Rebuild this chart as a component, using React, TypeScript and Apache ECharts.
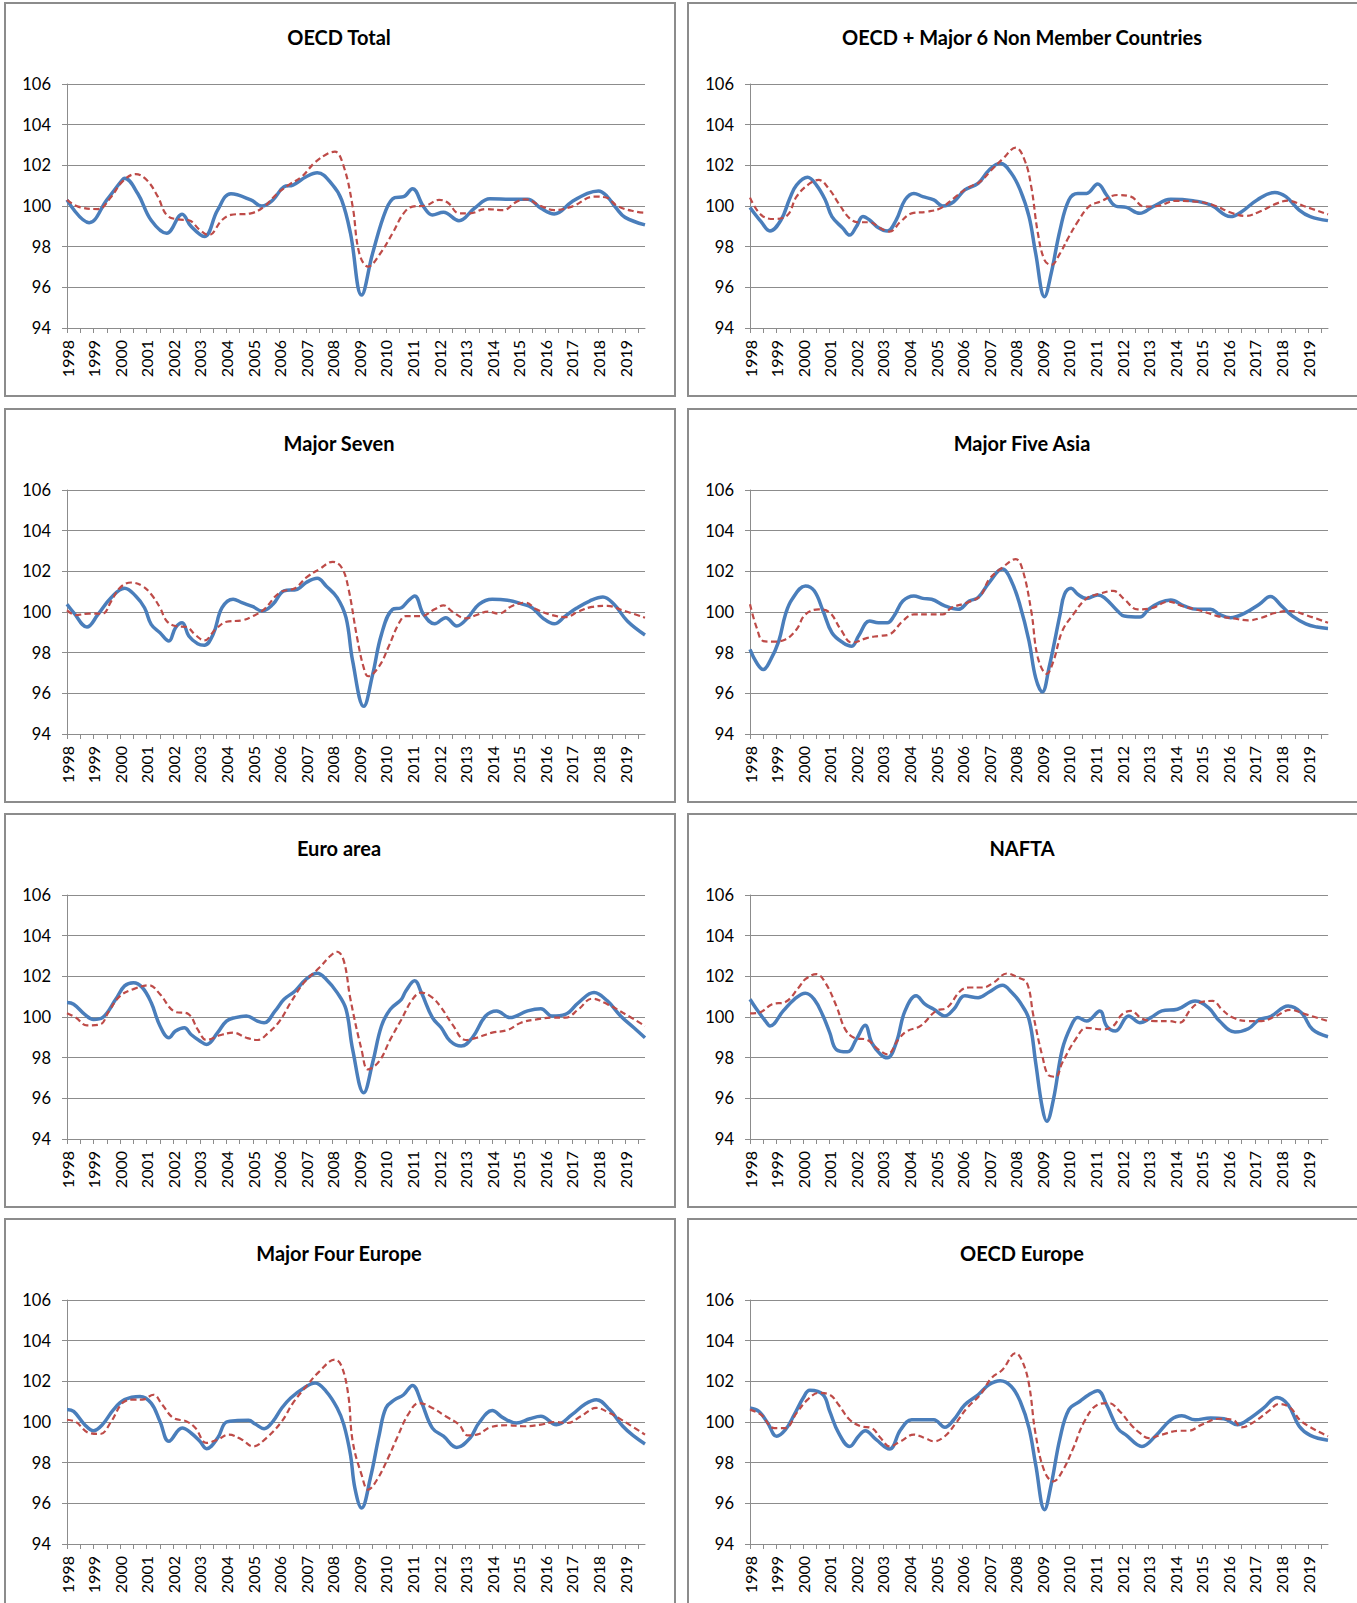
import React, { useEffect, useRef } from "react";
import * as echarts from "echarts";

// ---------- categories ----------
const YEARS = ["1998","1999","2000","2001","2002","2003","2004","2005","2006","2007","2008","2009","2010","2011","2012","2013","2014","2015","2016","2017","2018","2019"];
const MONTH_NUMS = ["01","02","03","04","05","06","07","08","09","10","11","12"];
const MONTHS = YEARS.flatMap((y) => MONTH_NUMS.map((m) => `${y}-${m}`)).slice(0, 262);

const Y_TICKS = { min: 94, max: 106, interval: 2 };

const TITLES = [
  "OECD Total",
  "OECD + Major 6 Non Member Countries",
  "Major Seven",
  "Major Five Asia",
  "Euro area",
  "NAFTA",
  "Major Four Europe",
  "OECD Europe",
];

// ---------- series values: [time in years, value] ----------
const oecdTotalCLI = [[1998.0,100.3],[1998.8,99.18],[1999.53,100.3],[2000.1,101.28],[2000.2,101.36],[2000.65,100.6],[2001.14,99.3],[2001.74,98.66],[2002.3,99.6],[2002.67,99.0],[2003.2,98.5],[2003.7,99.8],[2004.2,100.6],[2004.92,100.3],[2005.3,100.0],[2005.73,100.3],[2006.13,100.95],[2006.53,101.03],[2007.02,101.44],[2007.42,101.64],[2007.98,101.03],[2008.3,100.3],[2008.63,98.66],[2009.11,95.62],[2009.5,97.67],[2010.0,99.8],[2010.32,100.41],[2010.64,100.46],[2011.04,100.85],[2011.45,99.97],[2011.77,99.56],[2012.17,99.69],[2012.73,99.28],[2013.3,99.89],[2013.94,100.36],[2014.75,100.33],[2015.31,100.33],[2015.87,99.89],[2016.36,99.61],[2017.0,100.21],[2017.57,100.62],[2017.97,100.74],[2018.37,100.46],[2018.69,99.89],[2019.01,99.44],[2019.75,99.07]];
const oecdTotalRef = [[1998.0,100.3],[1998.4,99.97],[1999.13,99.85],[1999.7,100.46],[2000.1,101.2],[2000.58,101.57],[2000.98,101.28],[2001.38,100.46],[2001.78,99.56],[2002.19,99.34],[2002.59,99.3],[2003.0,98.82],[2003.31,98.57],[2003.8,99.31],[2004.2,99.56],[2004.92,99.64],[2005.41,99.97],[2005.89,100.62],[2006.37,101.03],[2006.86,101.44],[2007.34,102.15],[2007.82,102.59],[2008.06,102.67],[2008.39,101.93],[2008.71,99.97],[2009.03,97.67],[2009.35,97.02],[2009.76,97.59],[2010.24,98.66],[2010.64,99.64],[2011.04,99.97],[2011.53,100.02],[2012.0,100.3],[2012.33,100.16],[2012.73,99.64],[2013.14,99.64],[2013.78,99.85],[2014.43,99.8],[2014.91,100.21],[2015.23,100.33],[2015.87,100.0],[2016.36,99.8],[2017.0,99.97],[2017.81,100.46],[2018.21,100.43],[2018.77,99.97],[2019.42,99.72],[2019.75,99.67]];

const oecdPlus6CLI = [[1998.0,99.93],[1998.38,99.23],[1998.76,98.77],[1999.13,99.31],[1999.46,100.38],[1999.79,101.03],[2000.13,101.41],[2000.54,101.03],[2000.87,100.3],[2001.12,99.48],[2001.46,98.9],[2001.79,98.57],[2002.04,98.98],[2002.29,99.48],[2002.53,99.31],[2002.87,98.93],[2003.2,98.77],[2003.53,99.31],[2003.86,100.3],[2004.2,100.62],[2004.53,100.46],[2004.94,100.3],[2005.28,100.0],[2005.69,100.21],[2006.11,100.79],[2006.6,101.11],[2007.02,101.77],[2007.43,102.1],[2007.85,101.61],[2008.18,100.79],[2008.51,99.48],[2008.76,97.67],[2009.05,95.54],[2009.35,96.69],[2009.68,98.82],[2010.01,100.3],[2010.34,100.62],[2010.67,100.62],[2011.09,101.08],[2011.42,100.54],[2011.75,100.0],[2012.17,99.93],[2012.67,99.64],[2013.17,99.97],[2013.83,100.33],[2014.66,100.26],[2015.33,100.05],[2016.08,99.48],[2016.49,99.72],[2017.07,100.3],[2017.73,100.67],[2018.15,100.46],[2018.65,99.8],[2019.06,99.48],[2019.75,99.28]];
const oecdPlus6Ref = [[1998.0,100.41],[1998.38,99.56],[1998.88,99.36],[1999.38,99.56],[1999.79,100.46],[2000.21,101.11],[2000.62,101.28],[2001.04,100.79],[2001.37,100.13],[2001.79,99.39],[2002.12,99.2],[2002.53,99.2],[2002.95,98.9],[2003.28,98.74],[2003.7,99.23],[2004.11,99.64],[2004.69,99.72],[2005.19,99.89],[2005.69,100.38],[2006.19,100.87],[2006.69,101.2],[2007.1,101.77],[2007.52,102.3],[2008.02,102.87],[2008.35,102.26],[2008.6,100.95],[2008.85,98.66],[2009.1,97.34],[2009.35,97.1],[2009.68,97.67],[2010.01,98.49],[2010.34,99.23],[2010.76,99.97],[2011.17,100.21],[2011.84,100.54],[2012.34,100.46],[2012.83,99.97],[2013.33,100.0],[2014.0,100.25],[2014.83,100.21],[2015.41,100.05],[2016.16,99.64],[2016.65,99.51],[2017.15,99.72],[2017.82,100.13],[2018.23,100.26],[2018.81,100.0],[2019.75,99.59]];

const majorSevenCLI = [[1998.0,100.38],[1998.29,99.97],[1998.77,99.26],[1999.16,99.88],[1999.66,100.71],[2000.17,101.17],[2000.6,100.79],[2000.89,100.21],[2001.18,99.39],[2001.47,98.98],[2001.8,98.57],[2002.12,99.23],[2002.34,99.47],[2002.62,98.82],[2002.91,98.44],[2003.2,98.37],[2003.49,98.9],[2003.85,100.21],[2004.21,100.63],[2004.58,100.46],[2005.01,100.26],[2005.37,100.05],[2005.73,100.38],[2006.16,101.04],[2006.67,101.12],[2007.03,101.45],[2007.39,101.66],[2007.75,101.28],[2008.19,100.71],[2008.48,99.72],[2008.77,97.58],[2009.13,95.36],[2009.49,96.92],[2009.85,98.9],[2010.21,100.13],[2010.57,100.21],[2010.86,100.54],[2011.11,100.79],[2011.44,99.88],[2011.8,99.42],[2012.21,99.72],[2012.67,99.31],[2013.1,99.72],[2013.53,100.38],[2013.97,100.63],[2014.55,100.58],[2015.05,100.41],[2015.49,100.21],[2015.92,99.69],[2016.35,99.42],[2016.79,99.8],[2017.15,100.18],[2017.65,100.54],[2018.16,100.74],[2018.59,100.38],[2019.1,99.56],[2019.75,98.87]];
const majorSevenRef = [[1998.0,100.08],[1998.36,99.85],[1998.87,99.92],[1999.3,99.92],[1999.66,100.54],[2000.02,101.2],[2000.38,101.45],[2000.82,101.28],[2001.18,100.87],[2001.47,100.21],[2001.76,99.56],[2002.12,99.31],[2002.48,99.26],[2002.84,98.87],[2003.2,98.6],[2003.56,99.14],[2004.0,99.52],[2004.58,99.59],[2005.01,99.8],[2005.44,100.13],[2006.02,100.95],[2006.6,101.17],[2007.03,101.69],[2007.47,102.11],[2008.04,102.47],[2008.33,102.19],[2008.62,101.2],[2008.91,98.73],[2009.2,97.25],[2009.37,96.84],[2009.71,97.34],[2010.07,98.24],[2010.5,99.47],[2010.79,99.8],[2011.37,99.8],[2011.8,100.13],[2012.16,100.33],[2012.52,100.02],[2012.96,99.69],[2013.39,99.85],[2013.82,100.02],[2014.26,99.92],[2014.76,100.3],[2015.27,100.46],[2015.7,100.13],[2016.21,99.85],[2016.71,99.75],[2017.21,100.02],[2017.72,100.25],[2018.3,100.3],[2018.88,100.08],[2019.75,99.72]];

const majorFiveAsiaCLI = [[1998.0,98.16],[1998.22,97.5],[1998.48,97.17],[1998.79,97.58],[1999.08,98.57],[1999.37,99.88],[1999.59,100.63],[2000.1,101.28],[2000.38,101.04],[2000.75,100.05],[2001.11,98.98],[2001.47,98.49],[2001.83,98.32],[2002.12,98.82],[2002.48,99.56],[2002.84,99.47],[2003.13,99.47],[2003.42,99.8],[2003.78,100.54],[2004.14,100.79],[2004.5,100.67],[2004.86,100.63],[2005.3,100.3],[2005.8,100.13],[2006.24,100.54],[2006.6,100.71],[2006.96,101.45],[2007.47,102.11],[2007.83,101.53],[2008.19,100.3],[2008.48,98.57],[2008.77,96.76],[2008.98,96.07],[2009.27,97.25],[2009.63,99.88],[2009.85,100.87],[2010.07,101.17],[2010.36,100.87],[2010.64,100.67],[2011.08,100.84],[2011.37,100.71],[2011.8,100.05],[2012.09,99.8],[2012.67,99.75],[2013.03,100.13],[2013.39,100.46],[2013.82,100.59],[2014.33,100.3],[2014.84,100.13],[2015.34,100.13],[2015.7,99.88],[2016.06,99.72],[2016.57,99.92],[2017.15,100.38],[2017.58,100.76],[2018.02,100.3],[2018.45,99.8],[2018.88,99.42],[2019.32,99.26],[2019.75,99.19]];
const majorFiveAsiaRef = [[1998.0,100.38],[1998.22,99.23],[1998.51,98.57],[1998.87,98.54],[1999.3,98.65],[1999.73,99.14],[2000.1,99.88],[2000.6,100.13],[2001.03,99.97],[2001.4,99.14],[2001.83,98.49],[2002.41,98.73],[2002.84,98.82],[2003.27,98.9],[2003.71,99.56],[2004.14,99.88],[2004.72,99.88],[2005.23,99.88],[2005.59,100.21],[2006.16,100.46],[2006.67,100.79],[2007.03,101.61],[2007.47,102.19],[2007.97,102.6],[2008.26,102.11],[2008.55,100.05],[2008.84,97.75],[2009.13,96.96],[2009.42,97.58],[2009.78,99.06],[2010.14,99.88],[2010.64,100.67],[2011.15,100.9],[2011.66,101.04],[2012.09,100.63],[2012.6,100.13],[2013.1,100.18],[2013.75,100.51],[2014.26,100.3],[2014.98,100.05],[2015.56,99.8],[2016.14,99.69],[2016.79,99.59],[2017.29,99.72],[2017.72,99.95],[2018.3,100.05],[2018.88,99.85],[2019.75,99.47]];

const euroAreaCLI = [[1998.0,100.71],[1998.29,100.63],[1998.65,100.13],[1999.01,99.88],[1999.37,99.97],[1999.81,100.87],[2000.17,101.53],[2000.46,101.69],[2000.82,101.45],[2001.18,100.71],[2001.54,99.56],[2001.86,98.98],[2002.12,99.31],[2002.38,99.47],[2002.7,99.14],[2002.99,98.82],[2003.27,98.65],[2003.64,99.23],[2004.0,99.8],[2004.36,99.97],[2004.79,100.05],[2005.15,99.8],[2005.44,99.72],[2005.8,100.3],[2006.16,100.87],[2006.6,101.28],[2007.03,101.86],[2007.39,102.15],[2007.75,101.86],[2008.19,101.2],[2008.48,100.38],[2008.77,98.4],[2009.13,96.27],[2009.49,97.75],[2009.85,99.56],[2010.14,100.38],[2010.57,100.87],[2010.79,101.28],[2011.08,101.78],[2011.37,101.2],[2011.73,99.97],[2012.09,99.47],[2012.45,98.82],[2012.81,98.57],[2013.25,98.98],[2013.75,100.05],[2014.18,100.3],[2014.69,99.97],[2015.34,100.3],[2015.85,100.41],[2016.28,100.05],[2016.71,100.13],[2017.29,100.71],[2017.87,101.2],[2018.3,100.79],[2018.81,100.05],[2019.31,99.47],[2019.75,98.98]];
const euroAreaRef = [[1998.0,100.18],[1998.36,99.97],[1998.79,99.59],[1999.23,99.64],[1999.59,100.3],[2000.02,101.04],[2000.46,101.37],[2001.11,101.56],[2001.47,101.12],[2001.97,100.3],[2002.55,100.13],[2002.91,99.39],[2003.27,98.87],[2003.78,99.1],[2004.29,99.23],[2004.72,98.98],[2005.15,98.87],[2005.59,99.23],[2006.02,99.8],[2006.45,100.71],[2006.89,101.69],[2007.47,102.43],[2007.9,103.01],[2008.16,103.21],[2008.4,102.76],[2008.69,100.87],[2009.05,98.4],[2009.34,97.42],[2009.71,97.83],[2010.14,98.9],[2010.57,99.88],[2011.01,100.87],[2011.37,101.2],[2011.73,100.95],[2012.09,100.46],[2012.52,99.64],[2012.96,98.87],[2013.39,98.98],[2013.97,99.23],[2014.55,99.36],[2015.12,99.72],[2015.7,99.88],[2016.28,99.97],[2016.71,99.97],[2017.22,100.38],[2017.79,100.9],[2018.3,100.63],[2018.88,100.21],[2019.75,99.56]];

const naftaCLI = [[1998.0,100.87],[1998.29,100.38],[1998.58,99.8],[1998.79,99.56],[1999.23,100.3],[1999.66,100.87],[2000.07,101.17],[2000.38,100.87],[2000.75,100.05],[2000.96,99.23],[2001.22,98.4],[2001.68,98.29],[2001.97,98.9],[2002.31,99.59],[2002.62,98.73],[2002.91,98.16],[2003.16,97.99],[2003.49,98.73],[2003.85,100.3],[2004.21,101.04],[2004.58,100.63],[2004.94,100.38],[2005.3,100.05],[2005.66,100.38],[2006.09,101.04],[2006.6,100.95],[2007.03,101.23],[2007.47,101.56],[2007.83,101.23],[2008.19,100.71],[2008.48,99.88],[2008.77,97.75],[2009.01,95.53],[2009.17,94.87],[2009.42,95.94],[2009.78,98.4],[2010.07,99.56],[2010.36,99.97],[2010.64,99.8],[2011.15,100.3],[2011.44,99.56],[2011.73,99.31],[2012.23,100.05],[2012.67,99.72],[2013.1,99.97],[2013.53,100.3],[2014.11,100.38],[2014.76,100.79],[2015.27,100.46],[2015.7,99.8],[2016.21,99.26],[2016.71,99.42],[2017.15,99.88],[2017.58,100.02],[2018.23,100.54],[2018.74,100.21],[2019.17,99.39],[2019.75,99.03]];
const naftaRef = [[1998.0,100.18],[1998.36,100.21],[1998.87,100.63],[1999.37,100.74],[1999.81,101.45],[2000.1,101.86],[2000.46,102.11],[2000.82,101.69],[2001.25,100.54],[2001.61,99.39],[2001.9,98.98],[2002.41,98.87],[2002.84,98.4],[2003.16,98.16],[2003.56,98.9],[2003.92,99.31],[2004.43,99.56],[2005.01,100.3],[2005.44,100.46],[2005.88,101.28],[2006.24,101.45],[2006.74,101.45],[2007.18,101.69],[2007.68,102.14],[2008.12,101.94],[2008.4,101.69],[2008.69,100.05],[2008.98,98.08],[2009.27,97.12],[2009.46,97.06],[2009.78,97.75],[2010.21,98.9],[2010.64,99.47],[2011.22,99.39],[2011.66,99.56],[2012.02,100.13],[2012.31,100.3],[2012.74,99.92],[2013.25,99.8],[2013.75,99.8],[2014.18,99.72],[2014.55,100.38],[2014.91,100.71],[2015.41,100.79],[2015.78,100.38],[2016.14,99.97],[2016.71,99.8],[2017.29,99.8],[2017.72,100.02],[2018.37,100.35],[2018.88,100.13],[2019.75,99.8]];

const majorFourEuropeCLI = [[1998.0,100.61],[1998.29,100.52],[1998.64,99.87],[1999.0,99.57],[1999.37,99.87],[1999.77,100.61],[2000.17,101.1],[2000.74,101.26],[2001.14,100.93],[2001.46,100.03],[2001.86,99.05],[2002.32,99.7],[2002.67,99.46],[2002.99,99.05],[2003.27,98.69],[2003.64,99.21],[2004.04,100.0],[2004.44,100.07],[2004.84,100.08],[2005.09,99.9],[2005.41,99.67],[2005.73,100.03],[2006.05,100.69],[2006.45,101.18],[2006.94,101.67],[2007.34,101.92],[2007.74,101.51],[2008.14,100.69],[2008.39,99.87],[2008.63,98.39],[2008.87,96.75],[2009.11,95.77],[2009.43,97.25],[2009.76,99.38],[2010.0,100.69],[2010.32,101.1],[2010.64,101.34],[2011.04,101.8],[2011.37,100.98],[2011.77,99.7],[2012.17,99.3],[2012.65,98.75],[2013.14,99.21],[2013.54,99.95],[2014.02,100.56],[2014.43,100.2],[2014.91,99.95],[2015.39,100.16],[2015.87,100.28],[2016.44,99.87],[2017.0,100.36],[2017.48,100.89],[2017.89,101.1],[2018.45,100.61],[2018.93,99.79],[2019.34,99.3],[2019.75,98.92]];
const majorFourEuropeRef = [[1998.0,100.11],[1998.32,100.0],[1998.81,99.46],[1999.29,99.41],[1999.69,100.03],[2000.09,100.93],[2000.5,101.1],[2000.82,101.1],[2001.22,101.34],[2001.62,100.85],[2002.03,100.2],[2002.51,100.03],[2002.83,99.7],[2003.23,98.97],[2003.64,99.13],[2004.12,99.38],[2004.6,99.13],[2005.0,98.8],[2005.49,99.21],[2006.05,100.03],[2006.53,100.93],[2007.02,101.75],[2007.5,102.49],[2008.06,103.07],[2008.31,102.74],[2008.55,101.34],[2008.79,99.05],[2009.08,97.41],[2009.35,96.67],[2009.68,97.16],[2010.08,98.23],[2010.4,99.21],[2010.8,100.36],[2011.29,100.93],[2011.77,100.69],[2012.25,100.28],[2012.73,99.87],[2013.06,99.34],[2013.46,99.41],[2013.94,99.74],[2014.59,99.84],[2015.15,99.79],[2015.8,99.87],[2016.36,100.0],[2016.84,99.95],[2017.32,100.28],[2017.89,100.69],[2018.45,100.44],[2018.93,100.07],[2019.75,99.38]];

const oecdEuropeCLI = [[1998.0,100.69],[1998.3,100.52],[1998.63,99.95],[1998.96,99.3],[1999.3,99.62],[1999.63,100.36],[1999.96,101.18],[2000.29,101.56],[2000.71,101.34],[2001.04,100.52],[2001.37,99.46],[2001.79,98.8],[2002.12,99.3],[2002.37,99.57],[2002.78,99.13],[2003.23,98.67],[2003.7,99.62],[2004.11,100.11],[2004.61,100.11],[2004.94,100.11],[2005.36,99.74],[2005.69,100.11],[2006.11,100.85],[2006.6,101.34],[2007.02,101.84],[2007.43,102.03],[2007.85,101.75],[2008.18,101.02],[2008.51,99.7],[2008.76,97.9],[2009.05,95.69],[2009.35,96.92],[2009.68,99.21],[2010.01,100.61],[2010.43,101.02],[2010.76,101.34],[2011.09,101.54],[2011.42,100.85],[2011.84,99.7],[2012.17,99.34],[2012.75,98.8],[2013.25,99.3],[2013.83,100.11],[2014.25,100.31],[2014.75,100.11],[2015.33,100.2],[2015.83,100.16],[2016.33,99.87],[2016.83,100.2],[2017.33,100.69],[2017.82,101.21],[2018.24,100.85],[2018.65,99.79],[2019.06,99.34],[2019.75,99.1]];
const oecdEuropeRef = [[1998.0,100.61],[1998.38,100.36],[1998.88,99.7],[1999.3,99.7],[1999.71,100.44],[2000.13,101.1],[2000.62,101.43],[2000.96,101.34],[2001.37,100.85],[2001.79,100.11],[2002.2,99.79],[2002.62,99.7],[2002.95,99.21],[2003.28,98.8],[2003.7,99.05],[2004.2,99.38],[2004.61,99.21],[2004.94,99.05],[2005.36,99.3],[2005.77,99.95],[2006.19,100.69],[2006.69,101.34],[2007.1,102.16],[2007.52,102.57],[2008.02,103.39],[2008.27,102.98],[2008.51,101.84],[2008.76,99.38],[2009.1,97.57],[2009.38,97.08],[2009.76,97.57],[2010.18,98.72],[2010.59,100.03],[2011.09,100.85],[2011.5,100.93],[2011.92,100.52],[2012.34,99.87],[2012.67,99.46],[2013.0,99.21],[2013.5,99.38],[2014.16,99.57],[2014.5,99.57],[2015.0,99.87],[2015.66,100.16],[2016.16,100.11],[2016.49,99.74],[2016.99,100.03],[2017.49,100.52],[2017.91,100.89],[2018.32,100.69],[2018.74,100.03],[2019.75,99.3]];

const PANEL_SERIES = [
  [oecdTotalCLI, oecdTotalRef],
  [oecdPlus6CLI, oecdPlus6Ref],
  [majorSevenCLI, majorSevenRef],
  [majorFiveAsiaCLI, majorFiveAsiaRef],
  [euroAreaCLI, euroAreaRef],
  [naftaCLI, naftaRef],
  [majorFourEuropeCLI, majorFourEuropeRef],
  [oecdEuropeCLI, oecdEuropeRef],
];

// ---------- layout ----------
const W = 1357;
const H = 1603;
const COL_LEFT = [5, 688];
const ROW_TOP = [3, 409, 814, 1219];
const PANEL_W = 670;
const PANEL_H = 393;
const TITLE_CX = 329;
const PLOT = { left: 62, top: 81, width: 578, height: 244 };
const FONT = "Lato, 'Liberation Sans', sans-serif";

const toCat = (pts: number[][]) =>
  pts.map(([t, v]) => {
    const idx = Math.max(0, Math.min(MONTHS.length - 1, Math.round((t - 1998) * 12)));
    return [MONTHS[idx], v];
  });

function buildOption() {
  const grid: any[] = [];
  const xAxis: any[] = [];
  const yAxis: any[] = [];
  const series: any[] = [];
  const title: any[] = [];
  const graphic: any[] = [];

  TITLES.forEach((name, i) => {
    const c = i % 2;
    const r = Math.floor(i / 2);
    const pl = COL_LEFT[c];
    const pt = ROW_TOP[r];

    graphic.push({
      type: "rect",
      shape: { x: pl, y: pt, width: PANEL_W, height: PANEL_H },
      style: { fill: "none", stroke: "#8c8c8c", lineWidth: 2 },
      silent: true,
      z: 0,
    });

    title.push({
      text: name,
      left: pl + TITLE_CX,
      top: pt + 19,
      textAlign: "center",
      textStyle: { fontFamily: FONT, fontWeight: "bold", fontSize: 20, color: "#000" },
    });

    grid.push({
      left: pl + PLOT.left,
      top: pt + PLOT.top,
      width: PLOT.width,
      height: PLOT.height,
      containLabel: false,
    });

    xAxis.push({
      type: "category",
      gridIndex: i,
      data: MONTHS,
      boundaryGap: false,
      axisLine: { show: true, lineStyle: { color: "#8c8c8c", width: 1 } },
      axisTick: { show: true, interval: 5, length: 5, inside: false, lineStyle: { color: "#8c8c8c" } },
      axisLabel: {
        interval: 11,
        rotate: 90,
        margin: 12,
        fontFamily: FONT,
        fontSize: 16,
        color: "#000",
        formatter: (v: string) => v.slice(0, 4),
      },
      splitLine: { show: false },
    });

    yAxis.push({
      type: "value",
      gridIndex: i,
      min: Y_TICKS.min,
      max: Y_TICKS.max,
      interval: Y_TICKS.interval,
      axisLine: { show: true, lineStyle: { color: "#8c8c8c", width: 1 } },
      axisTick: { show: true, length: 5, inside: false, lineStyle: { color: "#8c8c8c" } },
      axisLabel: { margin: 16, fontFamily: FONT, fontSize: 16.5, color: "#000" },
      splitLine: { show: true, lineStyle: { color: "#8c8c8c", width: 1 } },
    });

    const [cli, ref] = PANEL_SERIES[i];
    series.push({
      name: name + " CLI",
      type: "line",
      xAxisIndex: i,
      yAxisIndex: i,
      data: toCat(cli),
      smooth: 0.4,
      symbol: "none",
      lineStyle: { color: "#4a7ebb", width: 3.5 },
      z: 3,
    });
    series.push({
      name: name + " reference",
      type: "line",
      xAxisIndex: i,
      yAxisIndex: i,
      data: toCat(ref),
      smooth: 0.4,
      symbol: "none",
      lineStyle: { color: "#be4b48", width: 2.2, type: [6, 3.5] },
      z: 4,
    });
  });

  return {
    animation: false,
    backgroundColor: "#ffffff",
    title,
    grid,
    xAxis,
    yAxis,
    series,
    graphic,
  };
}

export default function App() {
  const ref = useRef<HTMLDivElement>(null);
  useEffect(() => {
    if (!ref.current) return;
    const chart = echarts.init(ref.current, undefined, { renderer: "svg" });
    chart.setOption(buildOption() as any);
    return () => chart.dispose();
  }, []);
  return (
    <div
      ref={ref}
      style={{ position: "absolute", left: 0, top: 0, width: W, height: H, background: "#fff" }}
    />
  );
}
